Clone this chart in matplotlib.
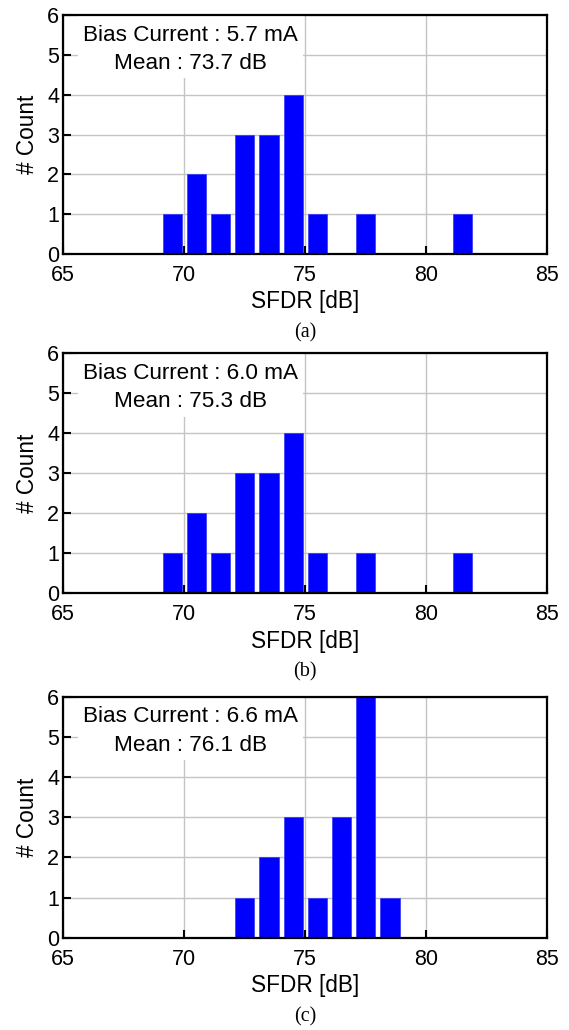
import matplotlib

matplotlib.use('Agg')

import matplotlib.pyplot as plt
from matplotlib.patches import Rectangle

plt.rcParams['font.family'] = ['Liberation Sans', 'DejaVu Sans']

# histogram bin centres [dB] and counts
SFDR_AB = [69.5, 70.5, 71.5, 72.5, 73.5, 74.5, 75.5, 77.5, 81.5]
COUNT_A = [1, 2, 1, 3, 3, 4, 1, 1, 1]
COUNT_B = [1, 2, 1, 3, 3, 4, 1, 1, 1]
SFDR_C = [72.5, 73.5, 74.5, 75.5, 76.5, 77.5, 78.5]
COUNT_C = [1, 2, 3, 1, 3, 6, 1]

BIAS = ['5.7', '6.0', '6.6']
MEANS = ['73.7', '75.3', '76.1']
CAPTIONS = ['(a)', '(b)', '(c)']

X_TICKS = [65, 70, 75, 80, 85]
Y_TICKS = [0, 1, 2, 3, 4, 5, 6]

W, H = 569, 1030
AX_LEFT, AX_WIDTH = 63.3, 484.0
AX_TOPS = [15.0, 353.3, 696.7]
AX_HEIGHTS = [239.0, 240.0, 241.0]


def draw_panel(ax, centers, counts, bias, mean):
    ax.add_patch(Rectangle((0.0304, 0.736), 0.465, 0.27, transform=ax.transAxes,
                           facecolor='white', edgecolor='none', zorder=1.5,
                           clip_on=True))
    ax.bar(centers, counts, width=0.8, color='#0000ff', edgecolor='#3333ff',
           linewidth=0.5, zorder=3)
    ax.set_xlim(65, 85)
    ax.set_ylim(0, 6)
    ax.set_xticks(X_TICKS)
    ax.set_yticks(Y_TICKS)
    ax.grid(True, color='#c4c4c4', linewidth=1.0, zorder=0)
    ax.set_axisbelow(True)
    ax.tick_params(direction='in', length=6, width=1.5, labelsize=15.5,
                   top=False, right=False)
    ax.tick_params(axis='x', pad=8)
    ax.tick_params(axis='y', pad=3)
    for sp in ax.spines.values():
        sp.set_linewidth(1.6)
        sp.set_color('black')
        sp.set_zorder(4)
    ax.set_xlabel('SFDR [dB]', fontsize=16.3, labelpad=3)
    ax.set_ylabel('# Count', fontsize=16.3, labelpad=6)
    ax.text(0.263, 0.916, 'Bias Current : %s mA' % bias, transform=ax.transAxes,
            ha='center', va='center', fontsize=16.2, zorder=5)
    ax.text(0.263, 0.799, 'Mean : %s dB' % mean, transform=ax.transAxes,
            ha='center', va='center', fontsize=16.2, zorder=5)


def main():
    fig = plt.figure(figsize=(W / 100, H / 100), dpi=100)
    data = [(SFDR_AB, COUNT_A), (SFDR_AB, COUNT_B), (SFDR_C, COUNT_C)]
    for i, (centers, counts) in enumerate(data):
        top, h = AX_TOPS[i], AX_HEIGHTS[i]
        ax = fig.add_axes([AX_LEFT / W, 1 - (top + h) / H, AX_WIDTH / W, h / H])
        draw_panel(ax, centers, counts, BIAS[i], MEANS[i])
        cap_y = top + h + 79
        fig.text((AX_LEFT + AX_WIDTH / 2) / W, 1 - cap_y / H, CAPTIONS[i],
                 ha='center', va='center', fontsize=14.5,
                 family=['Liberation Serif', 'DejaVu Serif'])

    fig.savefig('out.png', dpi=100)
    plt.close(fig)


if __name__ == "__main__":
    main()
